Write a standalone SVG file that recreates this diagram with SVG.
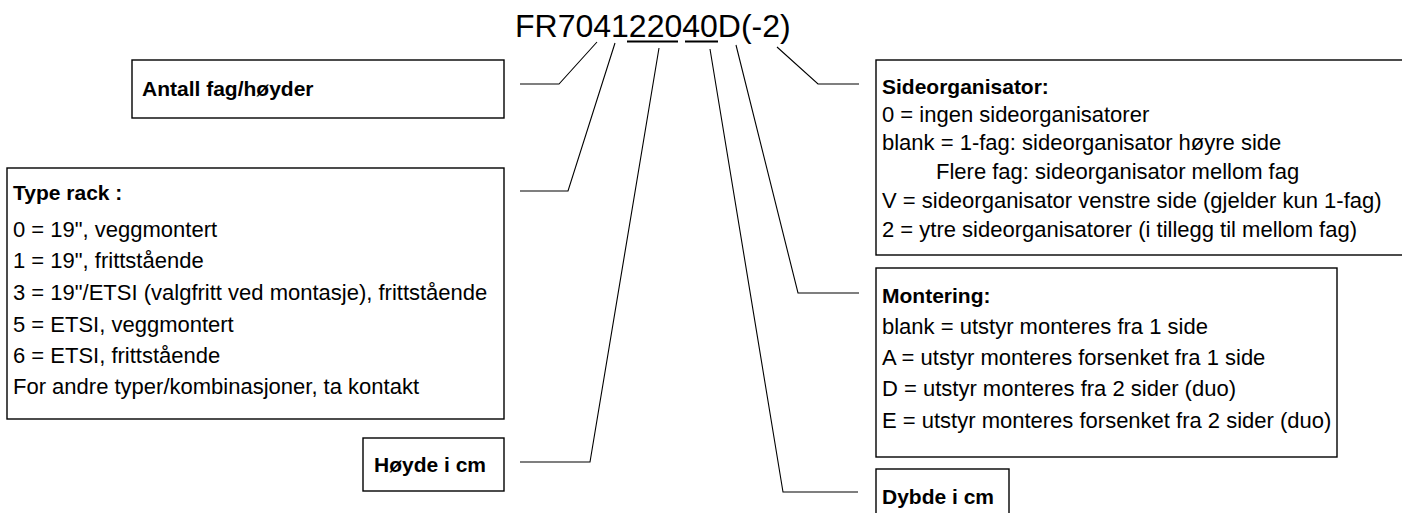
<svg xmlns="http://www.w3.org/2000/svg" width="1402" height="513" viewBox="0 0 1402 513">
<style>
.box{fill:#fff;stroke:#000;stroke-width:1.4}
.con{fill:none;stroke:#000;stroke-width:1.1}
.t{font-family:"Liberation Sans",Arial,sans-serif;font-size:22px;fill:#000}
.b{font-weight:bold;font-size:21px}
.title{font-family:"Liberation Sans",Arial,sans-serif;font-size:32px;fill:#000}
</style>
<rect width="1402" height="513" fill="#fff"/>
<g id="title">
<text class="title" x="515" y="37">FR704122040D(-2)</text>
<line x1="627" y1="41.5" x2="678" y2="41.5" stroke="#000" stroke-width="2"/>
<line x1="685" y1="41.5" x2="718" y2="41.5" stroke="#000" stroke-width="2"/>
</g>
<g id="connectors">
<polyline class="con" points="520,84 559,84 597,42"/>
<polyline class="con" points="520,191 568,191 615,43"/>
<polyline class="con" points="520,462 590,462 659,48"/>
<polyline class="con" points="710,49 783,492 858,492"/>
<polyline class="con" points="736,45 798,293 859,293"/>
<polyline class="con" points="777,47 818,84 859,84"/>
</g>
<g id="antall">
<rect class="box" x="132" y="60" width="372" height="58"/>
<text class="t b" x="142" y="96">Antall fag/høyder</text>
</g>
<g id="typerack">
<rect class="box" x="7" y="168" width="497" height="251"/>
<text class="t b" x="13" y="200">Type rack :</text>
<text class="t" x="13" y="237">0 = 19", veggmontert</text>
<text class="t" x="13" y="268">1 = 19", frittstående</text>
<text class="t" x="13" y="300">3 = 19"/ETSI (valgfritt ved montasje), frittstående</text>
<text class="t" x="13" y="332">5 = ETSI, veggmontert</text>
<text class="t" x="13" y="363">6 = ETSI, frittstående</text>
<text class="t" x="13" y="394">For andre typer/kombinasjoner, ta kontakt</text>
</g>
<g id="hoyde">
<rect class="box" x="363" y="438" width="141" height="53"/>
<text class="t b" x="374" y="472">Høyde i cm</text>
</g>
<g id="sideorganisator">
<rect class="box" x="876" y="60" width="530" height="195"/>
<text class="t b" x="882" y="94">Sideorganisator:</text>
<text class="t" x="882" y="122">0 = ingen sideorganisatorer</text>
<text class="t" x="882" y="150">blank = 1-fag: sideorganisator høyre side</text>
<text class="t" x="936" y="179">Flere fag: sideorganisator mellom fag</text>
<text class="t" x="882" y="208">V = sideorganisator venstre side (gjelder kun 1-fag)</text>
<text class="t" x="882" y="237">2 = ytre sideorganisatorer (i tillegg til mellom fag)</text>
</g>
<g id="montering">
<rect class="box" x="876" y="268" width="461" height="189"/>
<text class="t b" x="882" y="303">Montering:</text>
<text class="t" x="882" y="334">blank = utstyr monteres fra 1 side</text>
<text class="t" x="882" y="365">A = utstyr monteres forsenket fra 1 side</text>
<text class="t" x="882" y="396">D = utstyr monteres fra 2 sider (duo)</text>
<text class="t" x="882" y="428">E = utstyr monteres forsenket fra 2 sider (duo)</text>
</g>
<g id="dybde">
<rect class="box" x="876" y="469" width="133" height="60"/>
<text class="t b" x="882" y="504">Dybde i cm</text>
</g>
</svg>
